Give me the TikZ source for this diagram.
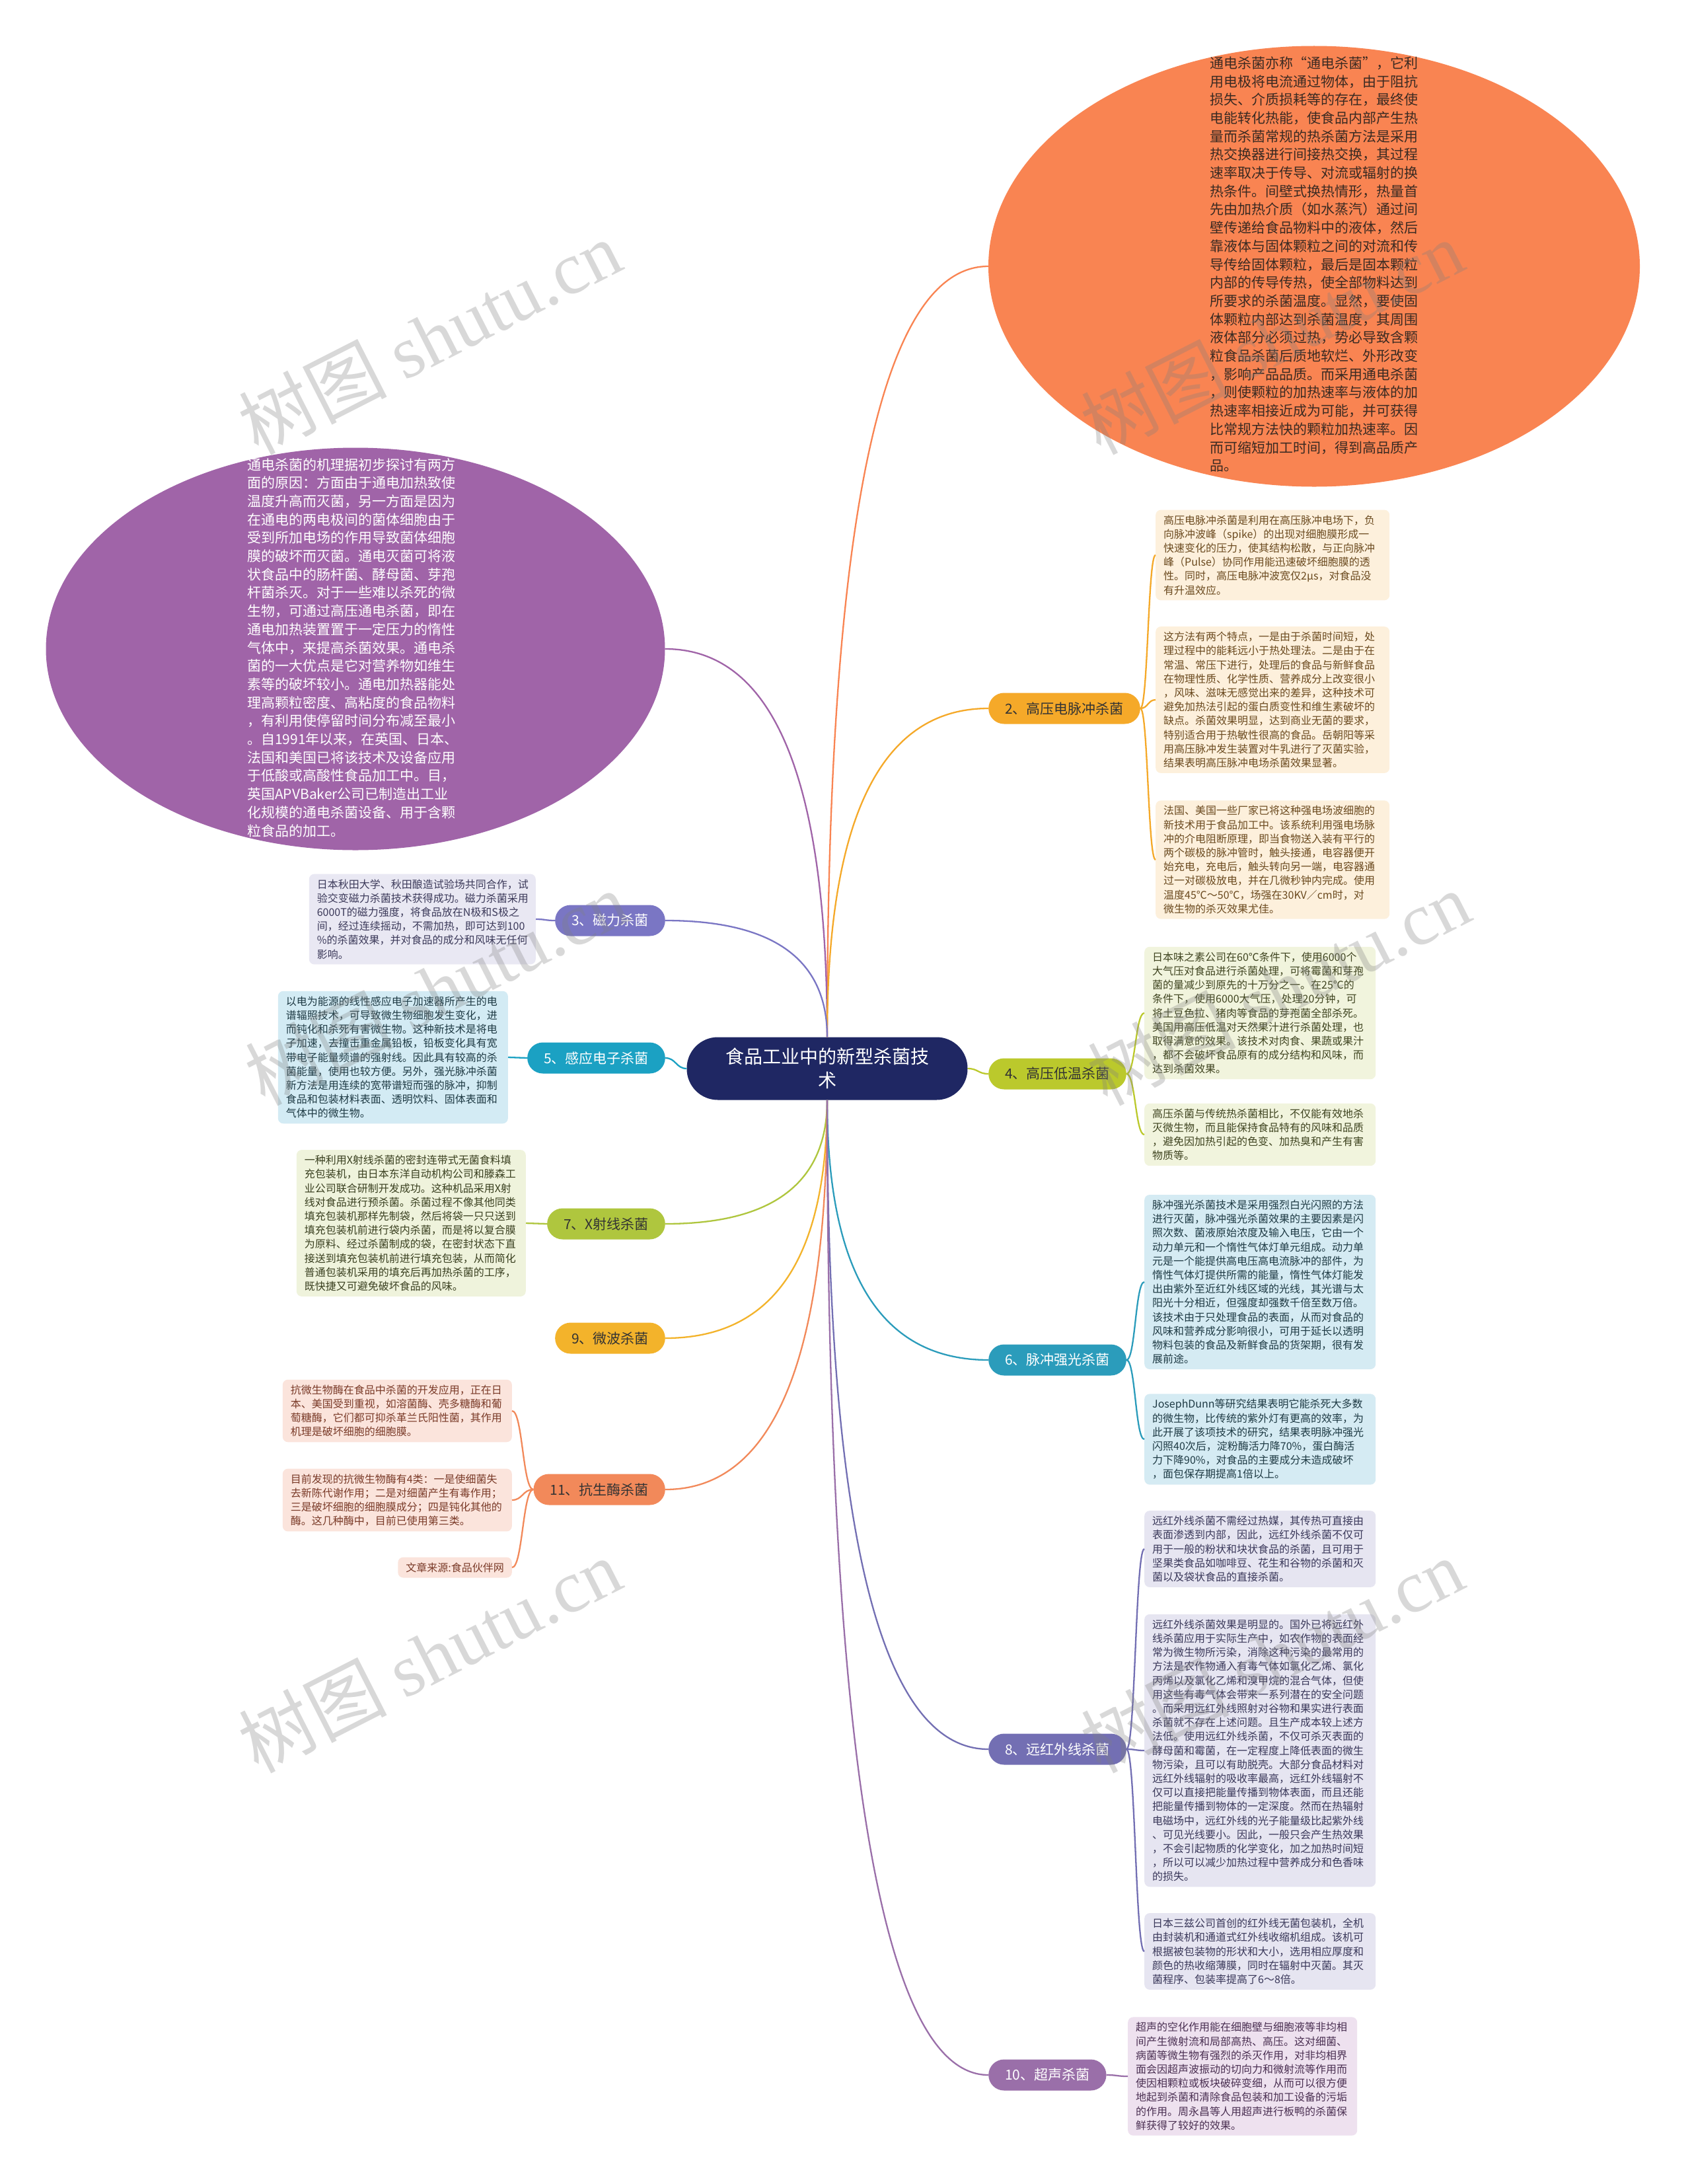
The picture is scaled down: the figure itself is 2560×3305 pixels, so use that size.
\documentclass[tikz,border=0pt]{standalone}
\usepackage{fontspec}
\setmainfont{Noto Sans CJK SC}
\newfontfamily\wmlatin{Liberation Serif}
\usetikzlibrary{shapes.geometric,calc}
\definecolor{cnavy}{HTML}{1F2763}
\definecolor{corange}{HTML}{F98452}
\definecolor{cpurple}{HTML}{A064A8}
\definecolor{ctwo}{HTML}{F5A929}
\definecolor{cthree}{HTML}{7A76C4}
\definecolor{cfive}{HTML}{1BA1C3}
\definecolor{cfour}{HTML}{BBC92C}
\definecolor{cseven}{HTML}{AFC63E}
\definecolor{csix}{HTML}{2B9CBB}
\definecolor{cnine}{HTML}{F3B32B}
\definecolor{celeven}{HTML}{F2895A}
\definecolor{ceight}{HTML}{736FB3}
\definecolor{cten}{HTML}{9A6FA9}
\definecolor{btwo}{HTML}{FDF0DC}\definecolor{ttwo}{HTML}{6B4A1F}
\definecolor{bthree}{HTML}{E9E8F3}\definecolor{tthree}{HTML}{3C3A5A}
\definecolor{bfive}{HTML}{D3EBF4}\definecolor{tfive}{HTML}{1E3A44}
\definecolor{bfour}{HTML}{F1F4DD}\definecolor{tfour}{HTML}{3F4420}
\definecolor{bseven}{HTML}{EFF3DC}\definecolor{tseven}{HTML}{3A4020}
\definecolor{bsix}{HTML}{D5EBF3}\definecolor{tsix}{HTML}{1E3A44}
\definecolor{beleven}{HTML}{FBE4DC}\definecolor{televen}{HTML}{7A3A28}
\definecolor{beight}{HTML}{E6E5F1}\definecolor{teight}{HTML}{3A385A}
\definecolor{bten}{HTML}{EEE1EF}\definecolor{tten}{HTML}{4A2F52}
\definecolor{darktext}{HTML}{3A2A22}
\newcommand\brconn[3]{\coordinate (tmpk) at (#2 |- #3);
\draw[conn,#1] (#2) .. controls ($(#2)!0.667!(tmpk)$) and ($(#3)!0.667!(tmpk)$) .. (#3);}
\newcommand\lfconn[3]{\coordinate (tmpm) at ($(#2)!0.5!(#3)$);
\draw[conn,#1] (#2) .. controls (tmpm |- #2) and (tmpm |- #3) .. (#3);}
\begin{document}
\begin{tikzpicture}[x=1pt,y=-1pt,
  conn/.style={line width=2.3pt},
  pill/.style={rounded corners=23.5pt, minimum height=47pt, inner xsep=25pt, inner ysep=0pt, font=\fontsize{21}{25}\selectfont},
  lpill/.style={pill, anchor=east},
  rpill/.style={pill, anchor=west},
  leaf/.style={rounded corners=8pt, inner xsep=12pt, inner ysep=8pt, align=left, font=\fontsize{16}{21.2}\selectfont},
  lleaf/.style={leaf, anchor=east},
  rleaf/.style={leaf, anchor=west},
  wm/.style={text=gray, opacity=0.3, font=\fontsize{112}{118}\selectfont, rotate=27}]
\useasboundingbox (0,0) rectangle (2560,3305);
\fill[white] (0,0) rectangle (2560,3305);

% center
\node[rounded corners=47pt, fill=cnavy, text=white, minimum width=425pt, minimum height=95pt, text width=330pt, align=center, inner sep=0pt, font=\fontsize{28}{36}\selectfont] (c) at (1252,1617) {食品工业中的新型杀菌技\\术};

% ellipses
\node[ellipse, fill=corange, minimum width=986pt, minimum height=667pt, inner sep=0pt] (oe) at (1989,403) {};
\node[text=darktext, align=left, inner sep=0pt, font=\fontsize{21}{27.7}\selectfont] (oet) at (1989,400) {通电杀菌亦称“通电杀菌”，它利\\
用电极将电流通过物体，由于阻抗\\
损失、介质损耗等的存在，最终使\\
电能转化热能，使食品内部产生热\\
量而杀菌常规的热杀菌方法是采用\\
热交换器进行间接热交换，其过程\\
速率取决于传导、对流或辐射的换\\
热条件。间壁式换热情形，热量首\\
先由加热介质（如水蒸汽）通过间\\
壁传递给食品物料中的液体，然后\\
靠液体与固体颗粒之间的对流和传\\
导传给固体颗粒，最后是固本颗粒\\
内部的传导传热，使全部物料达到\\
所要求的杀菌温度。显然，要使固\\
体颗粒内部达到杀菌温度，其周围\\
液体部分必须过热，势必导致含颗\\
粒食品杀菌后质地软烂、外形改变\\
，影响产品品质。而采用通电杀菌\\
，则使颗粒的加热速率与液体的加\\
热速率相接近成为可能，并可获得\\
比常规方法快的颗粒加热速率。因\\
而可缩短加工时间，得到高品质产\\
品。};

\node[ellipse, fill=cpurple, minimum width=937pt, minimum height=609pt, inner sep=0pt] (pe) at (538,982) {};
\node[text=white, align=left, inner sep=0pt, font=\fontsize{21}{27.7}\selectfont] (pet) at (534,980) {通电杀菌的机理据初步探讨有两方\\
面的原因：方面由于通电加热致使\\
温度升高而灭菌，另一方面是因为\\
在通电的两电极间的菌体细胞由于\\
受到所加电场的作用导致菌体细胞\\
膜的破坏而灭菌。通电灭菌可将液\\
状食品中的肠杆菌、酵母菌、芽孢\\
杆菌杀灭。对于一些难以杀死的微\\
生物，可通过高压通电杀菌，即在\\
通电加热装置置于一定压力的惰性\\
气体中，来提高杀菌效果。通电杀\\
菌的一大优点是它对营养物如维生\\
素等的破坏较小。通电加热器能处\\
理高颗粒密度、高粘度的食品物料\\
，有利用使停留时间分布减至最小\\
。自1991年以来，在英国、日本、\\
法国和美国已将该技术及设备应用\\
于低酸或高酸性食品加工中。目，\\
英国APVBaker公司已制造出工业\\
化规模的通电杀菌设备、用于含颗\\
粒食品的加工。};

% branch pills
\node[rpill, fill=ctwo, text=black!80] (n2) at (1496,1072) {2、高压电脉冲杀菌};
\node[lpill, fill=cthree, text=white] (n3) at (1007,1393) {3、磁力杀菌};
\node[lpill, fill=cfive, text=white] (n5) at (1007,1601) {5、感应电子杀菌};
\node[rpill, fill=cfour, text=black!80] (n4) at (1496,1625) {4、高压低温杀菌};
\node[lpill, fill=cseven, text=black!80] (n7) at (1007,1852) {7、X射线杀菌};
\node[lpill, fill=cnine, text=black!80] (n9) at (1007,2025) {9、微波杀菌};
\node[rpill, fill=csix, text=white] (n6) at (1496,2058) {6、脉冲强光杀菌};
\node[lpill, fill=celeven, text=black!80] (n11) at (1007,2254) {11、抗生酶杀菌};
\node[rpill, fill=ceight, text=white] (n8) at (1496,2647) {8、远红外线杀菌};
\node[rpill, fill=cten, text=white] (n10) at (1496,3140) {10、超声杀菌};

% leaves of 2
\node[rleaf, fill=btwo, text=ttwo, text width=330pt] (l2a) at (1749,840) {高压电脉冲杀菌是利用在高压脉冲电场下，负\\
向脉冲波峰（spike）的出现对细胞膜形成一\\
快速变化的压力，使其结构松散，与正向脉冲\\
峰（Pulse）协同作用能迅速破坏细胞膜的透\\
性。同时，高压电脉冲波宽仅2μs，对食品没\\
有升温效应。};
\node[rleaf, fill=btwo, text=ttwo, text width=330pt] (l2b) at (1749,1059) {这方法有两个特点，一是由于杀菌时间短，处\\
理过程中的能耗远小于热处理法。二是由于在\\
常温、常压下进行，处理后的食品与新鲜食品\\
在物理性质、化学性质、营养成分上改变很小\\
，风味、滋味无感觉出来的差异，这种技术可\\
避免加热法引起的蛋白质变性和维生素破坏的\\
缺点。杀菌效果明显，达到商业无菌的要求，\\
特别适合用于热敏性很高的食品。岳朝阳等采\\
用高压脉冲发生装置对牛乳进行了灭菌实验，\\
结果表明高压脉冲电场杀菌效果显著。};
\node[rleaf, fill=btwo, text=ttwo, text width=330pt] (l2c) at (1749,1301) {法国、美国一些厂家已将这种强电场波细胞的\\
新技术用于食品加工中。该系统利用强电场脉\\
冲的介电阻断原理，即当食物送入装有平行的\\
两个碳极的脉冲管时，触头接通，电容器便开\\
始充电，充电后，触头转向另一端，电容器通\\
过一对碳极放电，并在几微秒钟内完成。使用\\
温度45℃～50℃，场强在30KV／cm时，对\\
微生物的杀灭效果尤佳。};

% leaf of 3
\node[lleaf, fill=bthree, text=tthree, text width=319pt] (l3) at (811,1391) {日本秋田大学、秋田酿造试验场共同合作，试\\
验交变磁力杀菌技术获得成功。磁力杀菌采用\\
6000T的磁力强度，将食品放在N极和S极之\\
间，经过连续摇动，不需加热，即可达到100\\
\%的杀菌效果，并对食品的成分和风味无任何\\
影响。};

% leaf of 5
\node[lleaf, fill=bfive, text=tfive, text width=324pt] (l5) at (769,1600) {以电为能源的线性感应电子加速器所产生的电\\
谱辐照技术，可导致微生物细胞发生变化，进\\
而钝化和杀死有害微生物。这种新技术是将电\\
子加速，去撞击重金属铅板，铅板变化具有宽\\
带电子能量频谱的强射线。因此具有较高的杀\\
菌能量，使用也较方便。另外，强光脉冲杀菌\\
新方法是用连续的宽带谱短而强的脉冲，抑制\\
食品和包装材料表面、透明饮料、固体表面和\\
气体中的微生物。};

% leaves of 4
\node[rleaf, fill=bfour, text=tfour, text width=326pt] (l4a) at (1732,1533) {日本味之素公司在60℃条件下，使用6000个\\
大气压对食品进行杀菌处理，可将霉菌和芽孢\\
菌的量减少到原先的十万分之一。在25℃的\\
条件下，使用6000大气压，处理20分钟，可\\
将土豆色拉、猪肉等食品的芽孢菌全部杀死。\\
美国用高压低温对天然果汁进行杀菌处理，也\\
取得满意的效果。该技术对肉食、果蔬或果汁\\
，都不会破坏食品原有的成分结构和风味，而\\
达到杀菌效果。};
\node[rleaf, fill=bfour, text=tfour, text width=326pt] (l4b) at (1732,1717) {高压杀菌与传统热杀菌相比，不仅能有效地杀\\
灭微生物，而且能保持食品特有的风味和品质\\
，避免因加热引起的色变、加热臭和产生有害\\
物质等。};

% leaf of 7
\node[lleaf, fill=bseven, text=tseven, text width=323pt] (l7) at (796,1851) {一种利用X射线杀菌的密封连带式无菌食料填\\
充包装机，由日本东洋自动机构公司和滕森工\\
业公司联合研制开发成功。这种机品采用X射\\
线对食品进行预杀菌。杀菌过程不像其他同类\\
填充包装机那样先制袋，然后将袋一只只送到\\
填充包装机前进行袋内杀菌，而是将以复合膜\\
为原料、经过杀菌制成的袋，在密封状态下直\\
接送到填充包装机前进行填充包装，从而简化\\
普通包装机采用的填充后再加热杀菌的工序，\\
既快捷又可避免破坏食品的风味。};

% leaves of 6
\node[rleaf, fill=bsix, text=tsix, text width=326pt] (l6a) at (1732,1940) {脉冲强光杀菌技术是采用强烈白光闪照的方法\\
进行灭菌，脉冲强光杀菌效果的主要因素是闪\\
照次数、菌液原始浓度及输入电压，它由一个\\
动力单元和一个惰性气体灯单元组成。动力单\\
元是一个能提供高电压高电流脉冲的部件，为\\
惰性气体灯提供所需的能量，惰性气体灯能发\\
出由紫外至近红外线区域的光线，其光谱与太\\
阳光十分相近，但强度却强数千倍至数万倍。\\
该技术由于只处理食品的表面，从而对食品的\\
风味和营养成分影响很小，可用于延长以透明\\
物料包装的食品及新鲜食品的货架期，很有发\\
展前途。};
\node[rleaf, fill=bsix, text=tsix, text width=326pt] (l6b) at (1732,2178) {JosephDunn等研究结果表明它能杀死大多数\\
的微生物，比传统的紫外灯有更高的效率，为\\
此开展了该项技术的研究，结果表明脉冲强光\\
闪照40次后，淀粉酶活力降70\%，蛋白酶活\\
力下降90\%，对食品的主要成分未造成破坏\\
，面包保存期提高1倍以上。};

% leaves of 11
\node[lleaf, fill=beleven, text=televen, text width=323pt] (l11a) at (775,2135) {抗微生物酶在食品中杀菌的开发应用，正在日\\
本、美国受到重视，如溶菌酶、壳多糖酶和葡\\
萄糖酶，它们都可抑杀革兰氏阳性菌，其作用\\
机理是破坏细胞的细胞膜。};
\node[lleaf, fill=beleven, text=televen, text width=323pt] (l11b) at (775,2270) {目前发现的抗微生物酶有4类：一是使细菌失\\
去新陈代谢作用；二是对细菌产生有毒作用；\\
三是破坏细胞的细胞膜成分；四是钝化其他的\\
酶。这几种酶中，目前已使用第三类。};
\node[lleaf, fill=beleven, text=televen] (l11c) at (775,2372) {文章来源:食品伙伴网};

% leaves of 8
\node[rleaf, fill=beight, text=teight, text width=326pt] (l8a) at (1732,2344) {远红外线杀菌不需经过热媒，其传热可直接由\\
表面渗透到内部，因此，远红外线杀菌不仅可\\
用于一般的粉状和块状食品的杀菌，且可用于\\
坚果类食品如咖啡豆、花生和谷物的杀菌和灭\\
菌以及袋状食品的直接杀菌。};
\node[rleaf, fill=beight, text=teight, text width=326pt] (l8b) at (1732,2649) {远红外线杀菌效果是明显的。国外已将远红外\\
线杀菌应用于实际生产中，如农作物的表面经\\
常为微生物所污染，消除这种污染的最常用的\\
方法是农作物通入有毒气体如氯化乙烯、氯化\\
丙烯以及氯化乙烯和溴甲烷的混合气体，但使\\
用这些有毒气体会带来一系列潜在的安全问题\\
。而采用远红外线照射对谷物和果实进行表面\\
杀菌就不存在上述问题。且生产成本较上述方\\
法低。使用远红外线杀菌，不仅可杀灭表面的\\
酵母菌和霉菌，在一定程度上降低表面的微生\\
物污染，且可以有助脱壳。大部分食品材料对\\
远红外线辐射的吸收率最高，远红外线辐射不\\
仅可以直接把能量传播到物体表面，而且还能\\
把能量传播到物体的一定深度。然而在热辐射\\
电磁场中，远红外线的光子能量级比起紫外线\\
、可见光线要小。因此，一般只会产生热效果\\
，不会引起物质的化学变化，加之加热时间短\\
，所以可以减少加热过程中营养成分和色香味\\
的损失。};
\node[rleaf, fill=beight, text=teight, text width=326pt] (l8c) at (1732,2953) {日本三兹公司首创的红外线无菌包装机，全机\\
由封装机和通道式红外线收缩机组成。该机可\\
根据被包装物的形状和大小，选用相应厚度和\\
颜色的热收缩薄膜，同时在辐射中灭菌。其灭\\
菌程序、包装率提高了6～8倍。};

% leaf of 10
\node[rleaf, fill=bten, text=tten, text width=323pt] (l10) at (1707,3142) {超声的空化作用能在细胞壁与细胞液等非均相\\
间产生微射流和局部高热、高压。这对细菌、\\
病菌等微生物有强烈的杀灭作用，对非均相界\\
面会因超声波振动的切向力和微射流等作用而\\
使因相颗粒或板块破碎变细，从而可以很方便\\
地起到杀菌和清除食品包装和加工设备的污垢\\
的作用。周永昌等人用超声进行板鸭的杀菌保\\
鲜获得了较好的效果。};

% center connectors
\brconn{corange}{c.north}{oe.west}
\brconn{cpurple}{c.north}{pe.east}
\brconn{ctwo}{c.north}{n2.west}
\brconn{cthree}{c.north}{n3.east}
\lfconn{cfive}{c.west}{n5.east}
\lfconn{cfour}{c.east}{n4.west}
\brconn{cseven}{c.south}{n7.east}
\brconn{cnine}{c.south}{n9.east}
\brconn{celeven}{c.south}{n11.east}
\brconn{csix}{c.south}{n6.west}
\brconn{ceight}{c.south}{n8.west}
\brconn{cten}{c.south}{n10.west}

% leaf connectors
\lfconn{ctwo}{n2.east}{l2a.west}
\lfconn{ctwo}{n2.east}{l2b.west}
\lfconn{ctwo}{n2.east}{l2c.west}
\lfconn{cthree}{n3.west}{l3.east}
\lfconn{cfive}{n5.west}{l5.east}
\lfconn{cfour}{n4.east}{l4a.west}
\lfconn{cfour}{n4.east}{l4b.west}
\lfconn{cseven}{n7.west}{l7.east}
\lfconn{csix}{n6.east}{l6a.west}
\lfconn{csix}{n6.east}{l6b.west}
\lfconn{celeven}{n11.west}{l11a.east}
\lfconn{celeven}{n11.west}{l11b.east}
\lfconn{celeven}{n11.west}{l11c.east}
\lfconn{ceight}{n8.east}{l8a.west}
\lfconn{ceight}{n8.east}{l8b.west}
\lfconn{ceight}{n8.east}{l8c.west}
\lfconn{cten}{n10.east}{l10.west}

% watermarks
\node[wm] (w1) at (650,510) {树图 {\wmlatin shutu.cn}};
\node[wm] (w2) at (1925,510) {树图 {\wmlatin shutu.cn}};
\node[wm] (w3) at (660,1495) {树图 {\wmlatin shutu.cn}};
\node[wm] (w4) at (1935,1495) {树图 {\wmlatin shutu.cn}};
\node[wm] (w5) at (650,2505) {树图 {\wmlatin shutu.cn}};
\node[wm] (w6) at (1925,2505) {树图 {\wmlatin shutu.cn}};
\end{tikzpicture}
\end{document}
